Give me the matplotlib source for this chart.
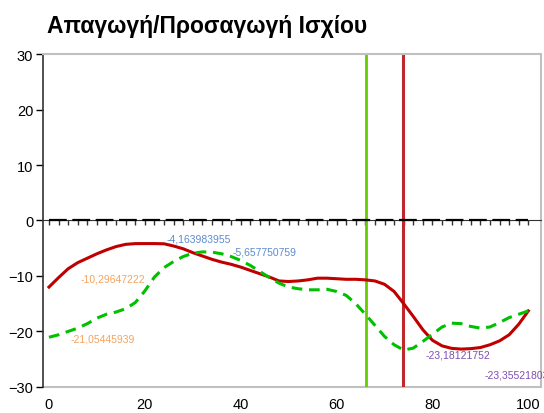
import numpy as np
import matplotlib
matplotlib.use("Agg")
from matplotlib import pyplot as plt

plt.rcParams['font.family'] = ['Liberation Sans', 'DejaVu Sans']

# percent of cycle
cycle = np.arange(0, 101, 2)

# hip abduction/adduction angle, degrees
hip_red = [-12.0, -10.3, -8.7, -7.6, -6.8, -6.0, -5.3, -4.7, -4.3, -4.17,
           -4.164, -4.164, -4.2, -4.6, -5.1, -5.8, -6.4, -7.0, -7.5, -7.9,
           -8.4, -9.0, -9.6, -10.2, -10.9, -11.0, -10.9, -10.7, -10.4, -10.4,
           -10.5, -10.6, -10.6, -10.7, -10.9, -11.5, -12.8, -15.0, -17.3, -19.7,
           -21.6, -22.6, -23.05, -23.18, -23.1, -22.9, -22.4, -21.7, -20.6, -18.7,
           -16.3]
hip_green = [-21.05, -20.6, -20.0, -19.4, -18.6, -17.6, -16.9, -16.5, -15.9, -14.8,
             -12.7, -10.2, -8.5, -7.4, -6.5, -5.9, -5.66, -5.7, -6.0, -6.5,
             -7.2, -8.1, -9.2, -10.3, -11.3, -12.0, -12.3, -12.5, -12.5, -12.4,
             -12.8, -13.5, -15.0, -16.9, -18.9, -20.9, -22.4, -23.36, -23.0, -21.8,
             -20.5, -19.2, -18.5, -18.6, -19.1, -19.4, -19.2, -18.4, -17.5, -16.9,
             -16.3]
baseline = [0.0] * len(cycle)

# toe-off markers
toe_off_green = 66.2
toe_off_red = 73.9

# value annotations: (text, x, y, colour)
notes = [
    ("-4,163983955", 24.5, -3.2, '#5B8BD0'),
    ("-5,657750759", 38.3, -5.6, '#5B8BD0'),
    ("-10,29647222", 6.5, -10.4, '#F4A460'),
    ("-21,05445939", 4.5, -21.2, '#F4A460'),
    ("-23,18121752", 78.5, -24.2, '#7E4FAF'),
    ("-23,35521803", 90.8, -27.7, '#7E4FAF'),
]

fig = plt.figure(figsize=(5.44, 4.14), dpi=100)
ax = fig.add_axes([0.079, 0.063, 0.916, 0.804])

ax.plot(cycle, baseline, color='black', lw=1.6, dashes=(8, 2.5), zorder=3)
ax.plot(cycle, hip_red, color='#C00000', lw=2.2, zorder=4)
ax.plot(cycle, hip_green, color='#00C000', lw=2.2, dashes=(3.5, 2.2), zorder=4)
ax.axvline(toe_off_green, color='#66CC00', lw=2, zorder=2)
ax.axvline(toe_off_red, color='#C0282D', lw=2.2, zorder=2)

for txt, x, y, c in notes:
    ax.text(x, y, txt, color=c, fontsize=7.5, ha='left', va='center', clip_on=False)

ax.set_xlim(-1.25, 102.7)
ax.set_ylim(-30, 30)

# x axis sits on zero with small ticks
ax.spines['bottom'].set_position(('data', 0))
ax.spines['bottom'].set_color('#333333')
ax.spines['bottom'].set_linewidth(0.8)
ax.set_xticks(np.arange(0, 101, 2))
ax.set_xticklabels([])
ax.tick_params(axis='x', direction='out', length=3.5, width=1, color='#333333')

ax.set_yticks(np.arange(-30, 31, 10))
ax.tick_params(axis='y', direction='out', length=5, width=1, labelsize=10.5, pad=2)
ax.spines['left'].set_color('#333333')
ax.spines['left'].set_linewidth(1.2)
for side in ['top', 'right']:
    ax.spines[side].set_color('#C0C0C0')
    ax.spines[side].set_linewidth(1.5)

# bottom frame carries the labels
sec = ax.secondary_xaxis(0.0)
sec.set_xticks(np.arange(0, 101, 20))
sec.tick_params(length=0, labelsize=10.5, pad=7)
sec.spines['bottom'].set_color('#C0C0C0')
sec.spines['bottom'].set_linewidth(1.5)

fig.text(0.086, 0.937, "Απαγωγή/Προσαγωγή Ισχίου", fontsize=16.5, fontweight='bold',
         ha='left', va='center')

fig.savefig("out.png", dpi=100)
